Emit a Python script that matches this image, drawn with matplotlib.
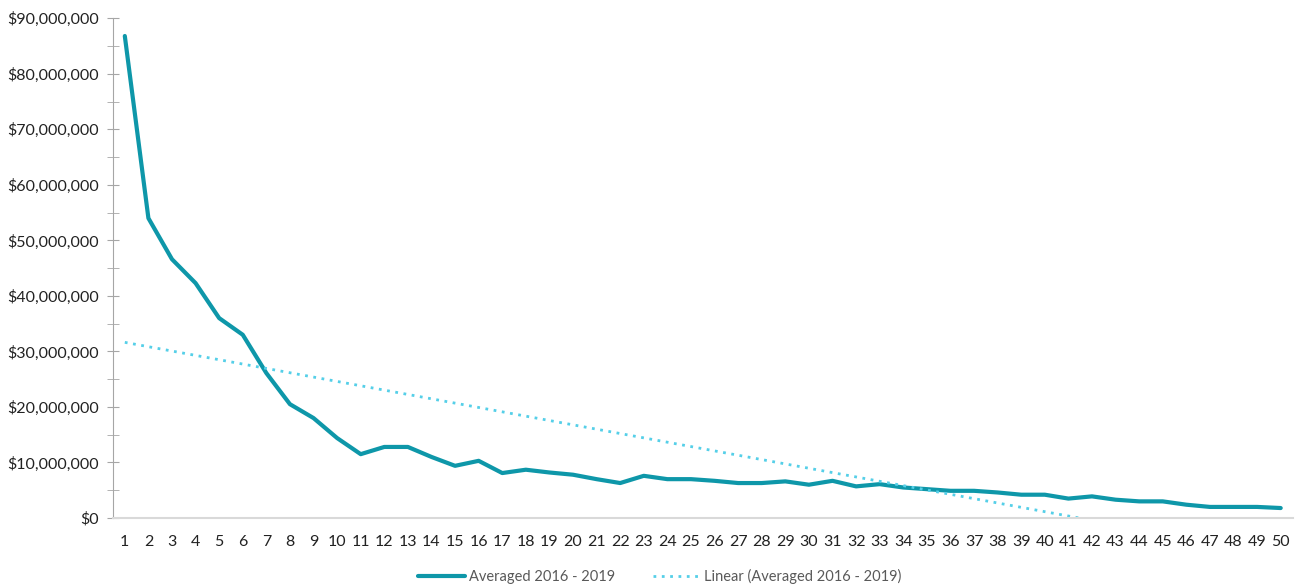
from matplotlib import pyplot as plt
from matplotlib.ticker import FuncFormatter, MultipleLocator
import numpy as np

# Averaged 2016 - 2019 values per rank
ranks = list(range(1, 51))
averaged = [86.8, 54.0, 46.6, 42.3, 36.0, 33.0, 26.1, 20.5, 18.0, 14.4,
            11.5, 12.8, 12.8, 11.0, 9.4, 10.3, 8.1, 8.7, 8.2, 7.8,
            7.0, 6.3, 7.6, 7.0, 7.0, 6.7, 6.3, 6.3, 6.6, 6.0,
            6.7, 5.7, 6.1, 5.5, 5.2, 4.9, 4.9, 4.6, 4.2, 4.2,
            3.5, 3.9, 3.3, 3.0, 3.0, 2.4, 2.0, 2.0, 2.0, 1.8]
averaged = [v * 1e6 for v in averaged]

plt.rcParams['font.family'] = ['Lato', 'DejaVu Sans']

fig = plt.figure(figsize=(12.99, 5.88), dpi=100)
ax = fig.add_axes([0.087, 0.119, 0.908, 0.850])

line_color = '#0E97A9'
trend_color = '#55CFE8'

ax.plot(ranks, averaged, color=line_color, lw=3, label='Averaged 2016 - 2019',
        solid_joinstyle='round', solid_capstyle='round')

# linear trendline like Excel
slope, intercept = np.polyfit(ranks, averaged, 1)
trend = [slope * r + intercept for r in ranks]
ax.plot(ranks, trend, color=trend_color, lw=2, ls=(0, (1, 2)),
        label='Linear (Averaged 2016 - 2019)')

ax.set_xlim(0.5, 50.5)
ax.set_ylim(0, 90e6)
ax.set_xticks(ranks)
ax.yaxis.set_major_locator(MultipleLocator(10e6))
ax.yaxis.set_minor_locator(MultipleLocator(5e6))
ax.yaxis.set_major_formatter(FuncFormatter(lambda v, p: '${:,.0f}'.format(v)))

for s in ['top', 'right']:
    ax.spines[s].set_visible(False)
ax.spines['left'].set_color('#A6A6A6')
ax.spines['bottom'].set_color('#D9D9D9')
ax.spines['bottom'].set_linewidth(1.5)

ax.tick_params(axis='y', which='both', direction='inout', length=8,
               color='#A6A6A6', labelsize=11.5, labelcolor='#222222', pad=6)
ax.tick_params(axis='x', length=0, labelsize=11.5, labelcolor='#222222', pad=12)

fig.legend(loc='center', bbox_to_anchor=(0.508, 0.02), ncol=2, frameon=False,
           fontsize=10.5, labelcolor='#595959', handlelength=3.2,
           handletextpad=0.3, columnspacing=2.6, borderpad=0)

plt.savefig('out.png', dpi=100)
